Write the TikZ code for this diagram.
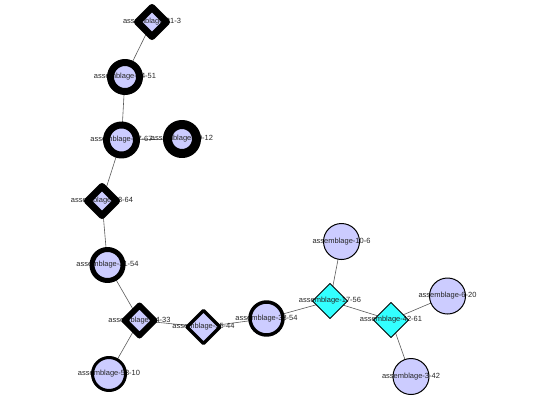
\documentclass[tikz,border=0pt]{standalone}
\usepackage{fontspec}
\setmainfont{Liberation Sans}
\usepackage{tikz}
\usetikzlibrary{shapes.geometric}

\definecolor{lav}{RGB}{204,204,255}
\definecolor{aqua}{RGB}{51,255,255}
\definecolor{wire}{RGB}{90,90,90}

\tikzset{
  disc/.style={circle, inner sep=0pt, outer sep=0pt, minimum size=#1},
  gem/.style={diamond, inner sep=0pt, outer sep=0pt, minimum size=#1},
  rim/.style={draw=black, line width=#1, line join=round},
  tag/.style={font=\fontsize{7.5}{7.5}\selectfont, text=black!85, inner sep=0pt},
  wire/.style={draw=wire, line width=0.6pt}
}

\begin{document}
\begin{tikzpicture}[x=1pt,y=-1pt]
\useasboundingbox (0,0) rectangle (550,400);
% filled shapes
\node[gem=29, fill=lav] (a) at (152,22) {};
\node[disc=29, fill=lav] (b) at (125,77) {};
\node[disc=30, fill=lav] (c) at (121.5,140) {};
\node[disc=29, fill=lav] (d) at (182,139) {};
\node[gem=29, fill=lav] (e) at (102,201) {};
\node[disc=31, fill=lav] (f) at (107.5,265) {};
\node[gem=30, fill=lav] (g) at (139.5,320.5) {};
\node[gem=33, fill=lav] (h) at (203.5,327) {};
\node[disc=33, fill=lav] (i) at (266.5,318.5) {};
\node[gem=35, fill=aqua] (j) at (330,301) {};
\node[disc=36, fill=lav] (k) at (341.5,241.5) {};
\node[gem=35, fill=aqua] (l) at (391,320) {};
\node[disc=36, fill=lav] (m) at (447.5,296) {};
\node[disc=36, fill=lav] (n) at (411,376.5) {};
\node[disc=33, fill=lav] (o) at (109,374) {};
% links
\draw[wire] (a) -- (b);
\draw[wire] (b) -- (c);
\draw[wire] (c) -- (d);
\draw[wire] (c) -- (e);
\draw[wire] (e) -- (f);
\draw[wire] (f) -- (g);
\draw[wire] (g) -- (o);
\draw[wire] (g) -- (h);
\draw[wire] (h) -- (i);
\draw[wire] (i) -- (j);
\draw[wire] (j) -- (k);
\draw[wire] (j) -- (l);
\draw[wire] (l) -- (m);
\draw[wire] (l) -- (n);
% names
\node[tag] at (a) {assemblage-21-3};
\node[tag] at (b) {assemblage-14-51};
\node[tag] at (c) {assemblage-27-67};
\node[tag] at (d) {assemblage-19-12};
\node[tag] at (e) {assemblage-28-64};
\node[tag] at (f) {assemblage-31-54};
\node[tag] at (g) {assemblage-24-33};
\node[tag] at (h) {assemblage-35-44};
\node[tag] at (i) {assemblage-38-54};
\node[tag] at (j) {assemblage-17-56};
\node[tag] at (k) {assemblage-10-6};
\node[tag] at (l) {assemblage-42-61};
\node[tag] at (m) {assemblage-6-20};
\node[tag] at (n) {assemblage-3-42};
\node[tag] at (o) {assemblage-53-10};
% outlines
\node[gem=29, rim=7pt] at (a) {};
\node[disc=29, rim=7pt] at (b) {};
\node[disc=30, rim=7pt] at (c) {};
\node[disc=29, rim=9pt] at (d) {};
\node[gem=29, rim=7pt] at (e) {};
\node[disc=31, rim=5pt] at (f) {};
\node[gem=30, rim=6pt] at (g) {};
\node[gem=33, rim=3.5pt] at (h) {};
\node[disc=33, rim=3.5pt] at (i) {};
\node[gem=35, rim=1pt] at (j) {};
\node[disc=36, rim=1pt] at (k) {};
\node[gem=35, rim=1pt] at (l) {};
\node[disc=36, rim=1pt] at (m) {};
\node[disc=36, rim=1pt] at (n) {};
\node[disc=33, rim=3pt] at (o) {};
\end{tikzpicture}
\end{document}
